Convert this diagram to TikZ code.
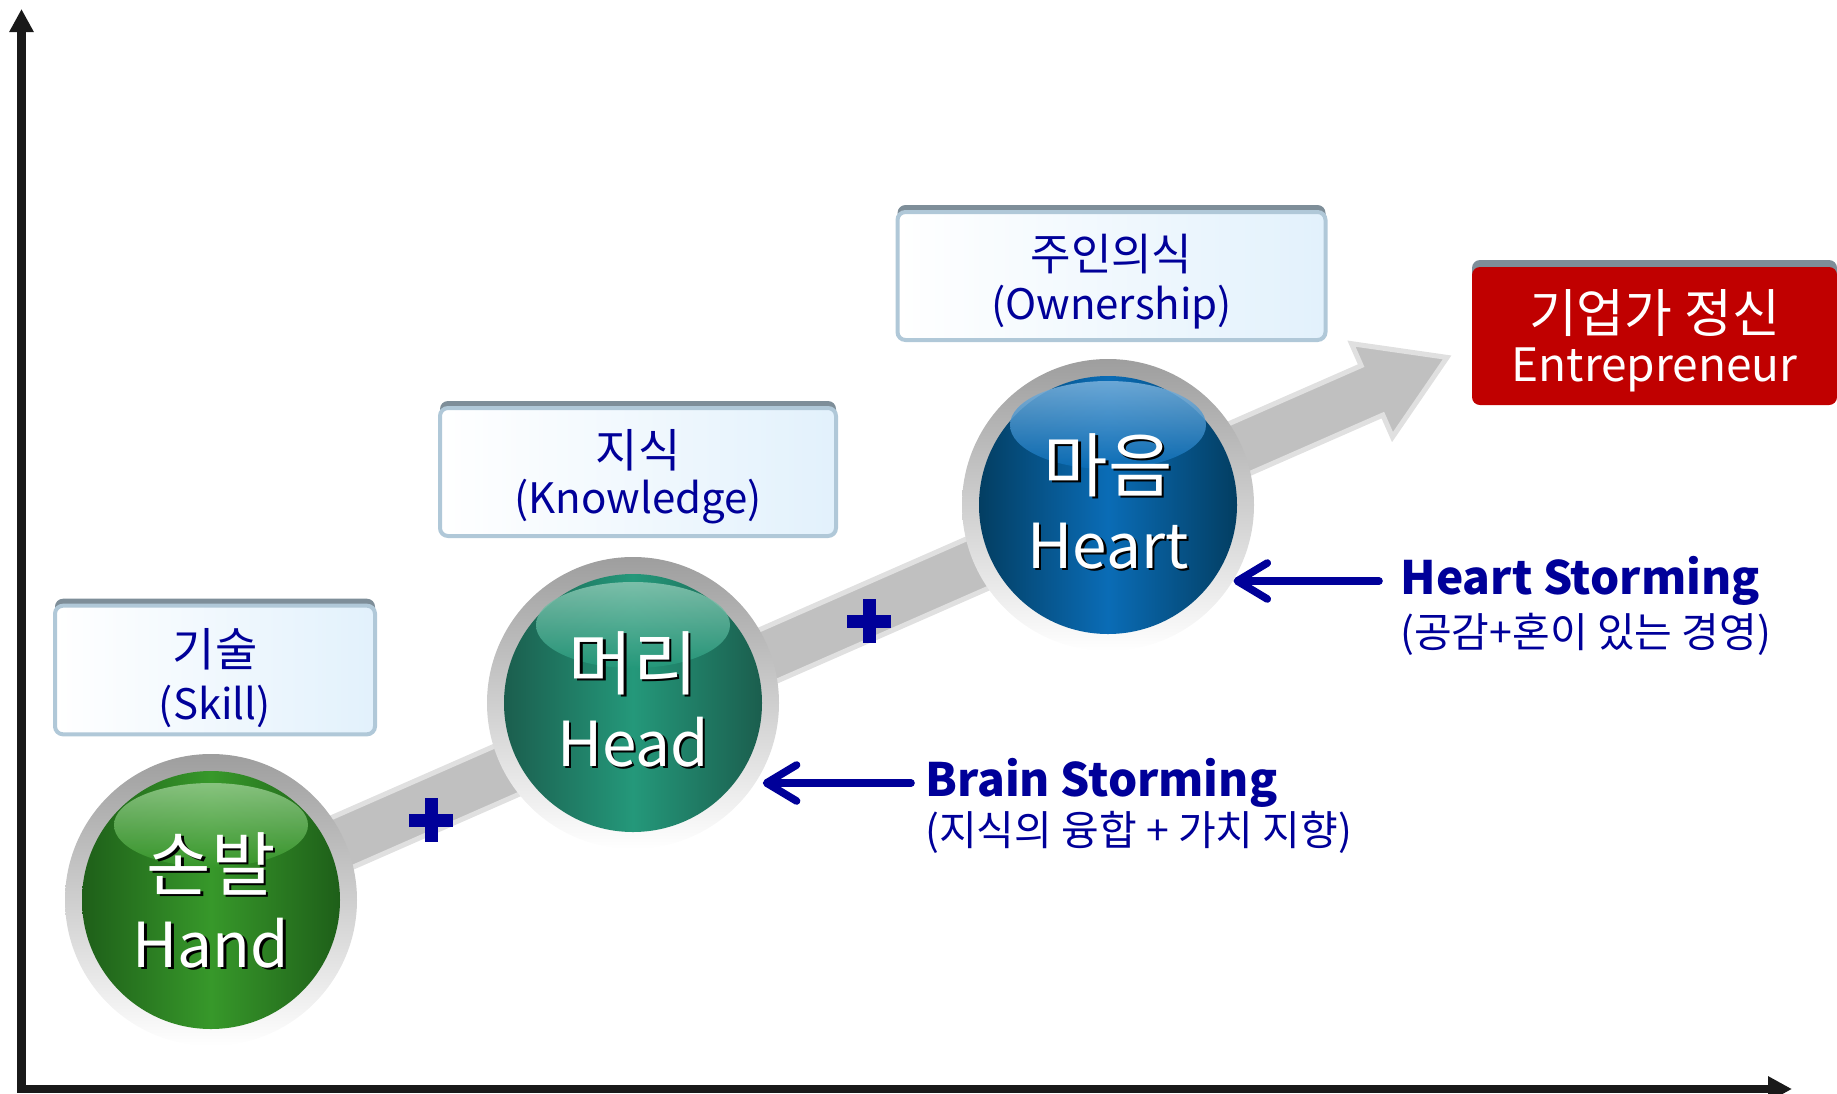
\documentclass[tikz,border=0pt]{standalone}
\usepackage{fontspec}
\setmainfont{Noto Sans CJK KR}
\usetikzlibrary{arrows.meta,shadows}
\definecolor{NavyText}{RGB}{0,0,153}
\definecolor{BoxTop}{RGB}{126,142,153}
\definecolor{BoxEdge}{RGB}{176,200,216}
\definecolor{BoxBlue}{RGB}{226,241,252}
\definecolor{RedBox}{RGB}{192,0,0}
\definecolor{BandGray}{RGB}{192,192,192}
\definecolor{BandEdge}{RGB}{224,224,224}
\definecolor{RingGray}{RGB}{158,158,158}
\definecolor{HandDark}{RGB}{30,95,25}
\definecolor{HandMid}{RGB}{55,152,42}
\definecolor{HandLight}{RGB}{150,203,142}
\definecolor{HeadDark}{RGB}{27,94,78}
\definecolor{HeadMid}{RGB}{36,152,122}
\definecolor{HeadLight}{RGB}{138,198,178}
\definecolor{HeartDark}{RGB}{3,62,98}
\definecolor{HeartMid}{RGB}{10,108,182}
\definecolor{HeartLight}{RGB}{124,178,220}
\newcommand{\bigko}[2]{{\fontsize{#1}{#1}\selectfont #2}}
\newcommand{\boxko}[3]{\raisebox{0pt}[\dimexpr\height+#2\relax]{\bigko{#1}{#3}}}
\tikzset{
  ring/.style={circle, minimum size=146pt, inner sep=0pt, top color=RingGray, bottom color=white},
  ball/.style={circle, minimum size=129pt, inner sep=0pt},
  balltxt/.style={align=center, inner sep=0pt, font=\fontsize{31}{38.5}\selectfont, text=white},
  labelbox/.style={rounded corners=4pt, draw=BoxEdge, line width=2pt, left color=white, right color=BoxBlue,
    minimum height=64pt, general shadow={fill=BoxTop, shadow yshift=3.5pt}, align=center, text=NavyText,
    font=\fontsize{21}{26.5}\selectfont},
  redbox/.style={rounded corners=4pt, fill=RedBox, minimum width=182.5pt, minimum height=69pt,
    general shadow={fill=BoxTop, shadow yshift=3.5pt}, align=center, text=white, font=\fontsize{23}{28}\selectfont},
  stormarrow/.style={draw=NavyText, line width=3.8pt, line cap=round, -{Straight Barb[length=15pt,width=18pt,round]}},
  stormtitle/.style={text=NavyText, font=\fontsize{23}{26}\selectfont\bfseries, inner sep=0pt, anchor=west},
  stormsub/.style={text=NavyText, font=\fontsize{20.5}{22}\selectfont, inner sep=0pt, anchor=west},
  plusmark/.style={draw=NavyText, line width=6.5pt}
}
\begin{document}
\begin{tikzpicture}[x=0.5pt,y=-0.5pt]
  \useasboundingbox (0,0) rectangle (1837,1093);
  % axes
  \draw[black!90, line width=4.3pt, {Triangle[length=12pt,width=12pt]}-{Triangle[length=11.5pt,width=11.5pt]}]
    (1792,1089) -- (21.5,1089) -- (21.5,9);
  % growth band
  \begin{scope}[shift={(211,900)}, rotate=23.7]
    \filldraw[fill=BandGray, draw=BandEdge, line width=2.5pt, line join=miter]
      (0,-27) -- (1268,-27) -- (1268,-51) -- (1350,0) -- (1268,51) -- (1268,27) -- (0,27) -- cycle;
  \end{scope}
  \draw[plusmark] (431,798) -- (431,842) (409,820) -- (453,820);
  \draw[plusmark] (869,599) -- (869,643) (847,621) -- (891,621);

  % balls
  \node[ring] (handRing) at (211,900) {};
  \node[ball, left color=HandDark, right color=HandDark, middle color=HandMid] (handBall) at (211,900) {};
  \shade[top color=HandLight, bottom color=HandMid, opacity=0.85] (211,825) ellipse [x radius=97, y radius=42];
  \node[balltxt, text=black] (handShd) at ([xshift=1.2pt, yshift=-1.2pt]handBall.center) {\bigko{35}{손발}\\Hand};
  \node[balltxt] (handTxt) at (handBall.center) {\bigko{35}{손발}\\Hand};

  \node[ring] (headRing) at (633,703) {};
  \node[ball, left color=HeadDark, right color=HeadDark, middle color=HeadMid] (headBall) at (633,703) {};
  \shade[top color=HeadLight, bottom color=HeadMid, opacity=0.85] (633,625) ellipse [x radius=97, y radius=43];
  \node[balltxt, text=black] (headShd) at ([xshift=1.2pt, yshift=0.8pt]headBall.center) {\bigko{35}{머리}\\Head};
  \node[balltxt] (headTxt) at ([yshift=2pt]headBall.center) {\bigko{35}{머리}\\Head};

  \node[ring] (heartRing) at (1108,505) {};
  \node[ball, left color=HeartDark, right color=HeartDark, middle color=HeartMid] (heartBall) at (1108,505) {};
  \shade[top color=HeartLight, bottom color=HeartMid, opacity=0.85] (1108,425) ellipse [x radius=98, y radius=44];
  \node[balltxt, text=black] (heartShd) at ([xshift=1.2pt, yshift=0.8pt]heartBall.center) {\bigko{35}{마음}\\Heart};
  \node[balltxt] (heartTxt) at ([yshift=2pt]heartBall.center) {\bigko{35}{마음}\\Heart};

  % boxes
  \node[labelbox, minimum width=160pt] (skill) at (215,670) {\boxko{23}{8pt}{기술}\\(Skill)};
  \node[labelbox, minimum width=198pt] (knowledge) at (638,472) {\boxko{23}{4.5pt}{지식}\\[-3.5pt](Knowledge)};
  \node[labelbox, minimum width=214pt] (ownership) at (1111.5,276) {\boxko{22}{5.7pt}{주인의식}\\[-2.3pt](Ownership)};
  \node[redbox] (entre) at (1654.5,336) {\boxko{26}{4.5pt}{기업가 정신}\\[-3.5pt]Entrepreneur};

  % storming
  \node[stormtitle] (brainT) at (925,783) {Brain Storming};
  \node[stormsub] (brainS) at (925,832) {(지식의 융합 + 가치 지향)};
  \draw[stormarrow, shorten <=7pt, shorten >=3.5pt] (brainT.west) -- (brainT.west -| headRing.-33);
  \node[stormtitle] (heartT) at (1400,581) {Heart Storming};
  \node[stormsub] (heartS) at (1400,634) {(공감+혼이 있는 경영)};
  \draw[stormarrow, shorten <=10.5pt] (heartT.west) -- (heartT.west -| heartRing.-31);
\end{tikzpicture}
\end{document}
